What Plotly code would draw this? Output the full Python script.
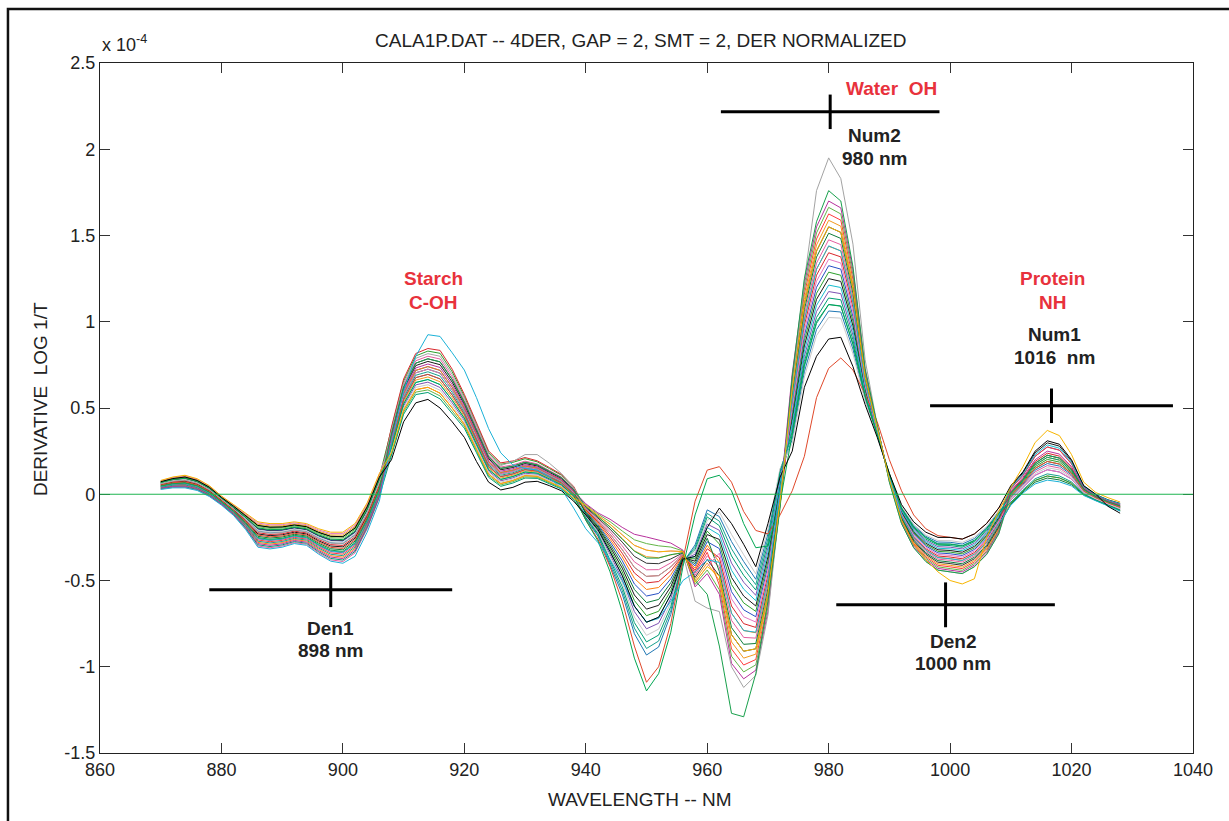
import plotly.graph_objects as go

# ---------------- data ----------------
wavelengths = list(range(870, 1030, 2))  # 870 ... 1028 nm

spec_blue = [.065,.082,.089,.07,.032,-.025,-.078,-.137,-.202,-.212,-.209,-.196,-.206,-.242,-.268,-.271,-.221,-.095,.078,
             .32,.584,.718,.74,.718,.62,.498,.346,.188,.126,.14,.164,.152,.116,.08,.014,
             -.10,-.175,-.275,-.385,-.52,-.59,-.575,-.49,-.36,-.415,-.275,
             -.315,-.565,-.67,-.71,-.415,.03,
             .475,.92,1.20,1.325,1.305,1.03,.62,.365,.10,-.11,-.23,-.30,-.34,-.345,-.355,-.32,-.255,-.15,
             .032,.11,.22,.274,.256,.176,.041,-.006,-.036,-.058]
spec_pink = [.03,.04,.04,.025,-.01,-.06,-.12,-.20,-.30,-.31,-.30,-.28,-.29,-.34,-.38,-.39,-.34,-.20,-.02,
             .36,.632,.774,.80,.784,.68,.544,.388,.224,.158,.17,.192,.176,.138,.10,.032,
             -.08,-.145,-.217,-.299,-.392,-.438,-.437,-.398,-.344,-.469,-.357,
             -.421,-.731,-.83,-.834,-.521,.0,
             .565,1.04,1.34,1.475,1.447,1.138,.66,.379,.092,-.13,-.258,-.332,-.376,-.383,-.393,-.356,-.289,-.178,
             -.022,.052,.13,.166,.152,.104,.014,-.024,-.054,-.08]
spec_black1 = [.055,.07,.075,.058,.02,-.035,-.09,-.155,-.23,-.24,-.235,-.22,-.23,-.27,-.30,-.305,-.255,-.125,.05,
               .34,.608,.746,.77,.751,.65,.521,.367,.206,.142,.155,.178,.164,.127,.09,.023,
               -.11,-.19,-.304,-.428,-.584,-.666,-.644,-.536,-.368,-.388,-.234,
               -.262,-.482,-.59,-.648,-.362,.06,
               .43,.86,1.13,1.25,1.234,.976,.60,.358,.104,-.10,-.216,-.284,-.322,-.326,-.336,-.302,-.238,-.136,
               .044,.124,.24,.298,.279,.192,.047,-.002,-.032,-.053]
spec_orange = [.075,.094,.103,.084,.044,-.015,-.066,-.119,-.174,-.184,-.183,-.172,-.182,-.214,-.236,-.237,-.187,-.065,.106,
               .28,.536,.662,.68,.652,.56,.452,.304,.152,.094,.11,.136,.128,.094,.06,-.004,
               -.07,-.13,-.188,-.256,-.328,-.362,-.368,-.352,-.336,-.496,-.398,
               -.50,-.856,-.95,-.927,-.60,-.03,
               .633,1.13,1.445,1.588,1.554,1.219,.69,.39,.086,-.145,-.279,-.356,-.403,-.412,-.422,-.383,-.315,-.199,
               .002,.078,.17,.214,.198,.136,.026,-.016,-.046,-.07]
spec_purple = [.045,.058,.061,.045,.008,-.045,-.102,-.173,-.258,-.268,-.261,-.244,-.254,-.298,-.332,-.339,-.289,-.155,.022,
               .26,.512,.634,.65,.619,.53,.429,.283,.134,.078,.095,.122,.116,.083,.05,-.013,
               -.125,-.213,-.348,-.493,-.68,-.78,-.748,-.605,-.38,-.348,-.173,
               -.209,-.399,-.51,-.586,-.309,.09,
               .385,.80,1.06,1.175,1.163,.922,.58,.351,.108,-.09,-.202,-.268,-.304,-.307,-.317,-.284,-.221,-.122,
               -.034,.039,.11,.142,.129,.088,.008,-.028,-.058,-.085]
spec_red = [.058,.073,.079,.061,.023,-.033,-.087,-.151,-.223,-.233,-.229,-.214,-.224,-.263,-.292,-.297,-.247,-.118,.057,
            .39,.668,.816,.845,.834,.725,.579,.42,.251,.182,.193,.213,.194,.155,.115,.046,
            -.09,-.16,-.246,-.342,-.456,-.514,-.506,-.444,-.352,-.442,-.316,
            -.368,-.648,-.75,-.772,-.468,-.06,
            .52,.98,1.27,1.40,1.376,1.084,.64,.372,.096,-.12,-.244,-.316,-.358,-.364,-.374,-.338,-.272,-.164,
            .014,.091,.19,.238,.221,.152,.032,-.012,-.042,-.065]
spec_teal = [.04,.052,.054,.038,.002,-.05,-.108,-.182,-.272,-.282,-.274,-.256,-.266,-.312,-.348,-.356,-.306,-.17,.008,
             .30,.56,.69,.71,.685,.59,.475,.325,.17,.11,.125,.15,.14,.105,.07,.005,
             -.14,-.235,-.391,-.557,-.776,-.894,-.851,-.674,-.392,-.307,-.111,
             -.156,-.316,-.43,-.524,-.256,.14,
             .34,.74,.99,1.10,1.092,.868,.56,.344,.112,-.08,-.188,-.252,-.286,-.288,-.298,-.266,-.204,-.108,
             -.046,.026,.09,.118,.106,.072,.002,-.032,-.062,-.09]
spec_lightgreen = [.07,.088,.096,.077,.038,-.02,-.072,-.128,-.188,-.198,-.196,-.184,-.194,-.228,-.252,-.254,-.204,-.08,.092,
                   .23,.476,.592,.605,.57,.485,.395,.252,.107,.054,.073,.101,.098,.067,.035,-.027,
                   -.06,-.115,-.159,-.213,-.264,-.286,-.299,-.306,-.328,-.523,-.439,
                   -.554,-.939,-1.03,-.989,-.654,-.05,
                   .678,1.19,1.515,1.663,1.625,1.273,.71,.397,.082,-.155,-.293,-.372,-.421,-.431,-.441,-.401,-.332,-.213,
                   -.01,.065,.15,.19,.175,.12,.02,-.02,-.05,-.075]
spec_darkgreen = [.05,.064,.068,.051,.014,-.04,-.096,-.164,-.244,-.254,-.248,-.232,-.242,-.284,-.316,-.322,-.272,-.14,.036,
                  .31,.572,.704,.725,.702,.605,.487,.336,.179,.118,.133,.157,.146,.111,.075,.01,
                  -.105,-.183,-.29,-.407,-.552,-.628,-.61,-.513,-.364,-.402,-.255,
                  -.448,-.773,-.87,-.865,-.548,.02,
                  .588,1.07,1.375,1.513,1.483,1.165,.67,.383,.09,-.135,-.265,-.34,-.385,-.393,-.403,-.365,-.298,-.185,
                  -.058,.013,.07,.094,.083,.056,-.004,-.036,-.066,-.095]
spec_lightgrey = [.063,.079,.086,.067,.029,-.028,-.081,-.142,-.209,-.219,-.216,-.202,-.212,-.249,-.276,-.28,-.23,-.103,.071,
                  .25,.50,.62,.635,.603,.515,.418,.273,.125,.07,.088,.115,.11,.078,.045,-.018,
                  -.13,-.22,-.362,-.514,-.712,-.818,-.782,-.628,-.384,-.334,-.152,
                  -.103,-.233,-.35,-.462,-.203,.15,
                  .295,.68,.92,1.025,1.021,.814,.54,.337,.116,-.07,-.174,-.236,-.268,-.269,-.279,-.248,-.187,-.094,
                  -.028,.046,.12,.154,.141,.096,.011,-.026,-.056,-.083]
spec_magenta = [.035,.046,.047,.032,-.004,-.055,-.114,-.191,-.286,-.296,-.287,-.268,-.278,-.326,-.364,-.373,-.323,-.185,-.006,
                .33,.596,.732,.755,.735,.635,.51,.357,.197,.134,.148,.171,.158,.122,.085,.019,
                -.055,-.108,-.145,-.192,-.232,-.248,-.265,-.283,-.324,-.537,-.46,
                -.58,-.98,-1.07,-1.02,-.68,-.02,
                .70,1.22,1.55,1.70,1.66,1.30,.72,.40,.08,-.16,-.30,-.38,-.43,-.44,-.45,-.41,-.34,-.22,
                .02,.098,.20,.25,.233,.16,.035,-.01,-.04,-.063]
spec_green3 = [.0725,.091,.0995,.080,.041,-.0175,-.069,-.1235,-.181,-.191,-.1895,-.178,-.188,-.221,-.244,-.2455,-.1955,-.0725,.099,
               .38,.656,.802,.83,.817,.71,.567,.409,.242,.174,.185,.206,.188,.149,.11,.041,
               -.115,-.1975,-.3185,-.4495,-.616,-.704,-.6785,-.559,-.372,-.3745,-.2135,
               -.2885,-.5235,-.63,-.679,-.3885,.05,
               .4525,.89,1.165,1.2875,1.2695,1.003,.61,.3615,.102,-.105,-.223,-.292,-.331,-.3355,-.3455,-.311,-.2465,-.143,
               -.004,.0715,.16,.202,.1865,.128,.023,-.018,-.048,-.0725]
spec_red2 = [.0425,.055,.0575,.0413,.005,-.0475,-.105,-.1775,-.265,-.275,-.2675,-.25,-.26,-.305,-.34,-.3475,-.2975,-.1625,.015,
             .24,.488,.606,.62,.586,.50,.406,.262,.116,.062,.08,.108,.104,.072,.04,-.022,
             -.085,-.1525,-.2315,-.3205,-.424,-.476,-.4715,-.421,-.348,-.4555,-.3365,
             -.527,-.897,-.99,-.958,-.627,-.06,
             .655,1.16,1.48,1.625,1.589,1.246,.70,.393,.084,-.15,-.286,-.364,-.412,-.421,-.431,-.392,-.323,-.206,
             .032,.1105,.22,.274,.2555,.176,.041,-.006,-.036,-.0575]
spec_blue2 = [.061,.0772,.0834,.0653,.0272,-.029,-.0828,-.1442,-.2132,-.2232,-.2194,-.2056,-.2156,-.2532,-.2808,-.2846,-.2346,-.107,.0668,
              .29,.548,.676,.695,.6685,.575,.4635,.3145,.161,.102,.1175,.143,.134,.0995,.065,.0005,
              -.145,-.2425,-.4055,-.5785,-.808,-.932,-.8855,-.697,-.396,-.2935,-.0905,
              -.1295,-.2745,-.39,-.493,-.2295,.12,
              .3175,.71,.955,1.0625,1.0565,.841,.55,.3405,.114,-.075,-.181,-.244,-.277,-.2785,-.2885,-.257,-.1955,-.101,
              -.016,.0585,.14,.178,.1635,.112,.017,-.022,-.052,-.0775]
spec_orange2 = [.0375,.049,.0505,.0348,-.001,-.0525,-.111,-.1865,-.279,-.289,-.2805,-.262,-.272,-.319,-.356,-.3645,-.3145,-.1775,.001,
                .32,.584,.718,.74,.718,.62,.498,.346,.188,.126,.14,.164,.152,.116,.08,.014,
                -.095,-.1675,-.2605,-.3635,-.488,-.552,-.5405,-.467,-.356,-.4285,-.2955,
                -.3945,-.6895,-.79,-.803,-.4945,-.01,
                .5425,1.01,1.305,1.4375,1.4115,1.111,.65,.3755,.094,-.125,-.251,-.324,-.367,-.3735,-.3835,-.347,-.2805,-.171,
                -.052,.0195,.08,.106,.0945,.064,-.001,-.034,-.064,-.0925]
spec_black3 = [.066,.0832,.0904,.0718,.0332,-.024,-.0768,-.1352,-.1992,-.2092,-.2064,-.1936,-.2036,-.2392,-.2648,-.2676,-.2176,-.092,.0808,
               .35,.62,.76,.785,.7675,.665,.5325,.3775,.215,.15,.1625,.185,.17,.1325,.095,.0275,
               -.075,-.1375,-.2025,-.2775,-.36,-.40,-.4025,-.375,-.34,-.4825,-.3775,
               -.474,-.814,-.91,-.896,-.574,-.04,
               .61,1.10,1.41,1.55,1.518,1.192,.68,.386,.088,-.14,-.272,-.348,-.394,-.402,-.412,-.374,-.306,-.192,
               .008,.0845,.18,.226,.2095,.144,.029,-.014,-.044,-.0675]
spec_cyan2 = [.046,.0592,.0624,.0458,.0092,-.044,-.1008,-.1712,-.2552,-.2652,-.2584,-.2416,-.2516,-.2952,-.3288,-.3356,-.2856,-.152,.0248,
              .27,.524,.648,.665,.6355,.545,.4405,.2935,.143,.086,.1025,.129,.122,.0885,.055,-.0085,
              -.12,-.205,-.333,-.471,-.648,-.742,-.713,-.582,-.376,-.361,-.193,
              -.2355,-.4405,-.55,-.617,-.3355,.07,
              .4075,.83,1.095,1.2125,1.1985,.949,.59,.3545,.106,-.095,-.209,-.276,-.313,-.3165,-.3265,-.293,-.2295,-.129,
              .038,.117,.23,.286,.267,.184,.044,-.004,-.034,-.055]
spec_pink2 = [.0775,.097,.1065,.0868,.047,-.0125,-.063,-.1145,-.167,-.177,-.1765,-.166,-.176,-.207,-.228,-.2285,-.1785,-.0575,.113,
              .31,.572,.704,.725,.7015,.605,.4865,.3355,.179,.118,.1325,.157,.146,.1105,.075,.0095,
              -.065,-.1225,-.1735,-.2345,-.296,-.324,-.3335,-.329,-.332,-.5095,-.4185,
              -.3415,-.6065,-.71,-.741,-.4415,.0,
              .4975,.95,1.235,1.3625,1.3405,1.057,.63,.3685,.098,-.115,-.237,-.308,-.349,-.3545,-.3645,-.329,-.2635,-.157,
              -.034,.039,.11,.142,.129,.088,.008,-.028,-.058,-.085]
spec_green4 = [.0325,.043,.0435,.0283,-.007,-.0575,-.117,-.1955,-.293,-.303,-.2935,-.274,-.284,-.333,-.372,-.3815,-.3315,-.1925,-.013,
               .22,.464,.578,.59,.553,.47,.383,.241,.098,.046,.065,.094,.092,.061,.03,-.031,
               -.135,-.2275,-.3765,-.5355,-.744,-.856,-.8165,-.651,-.388,-.3205,-.1315,
               -.1825,-.3575,-.47,-.555,-.2825,.13,
               .3625,.77,1.025,1.1375,1.1275,.895,.57,.3475,.11,-.085,-.195,-.26,-.295,-.2975,-.3075,-.275,-.2125,-.115,
               .002,.078,.17,.214,.198,.136,.026,-.016,-.046,-.07]
spec_grey = [.06,.076,.082,.064,.026,-.03,-.084,-.146,-.216,-.226,-.222,-.208,-.218,-.256,-.284,-.288,-.238,-.11,.064,
             .37,.644,.788,.815,.80,.695,.556,.40,.233,.166,.19,.23,.23,.18,.12,.04,
             -.085,-.153,-.232,-.321,-.424,-.476,-.472,-.421,-.348,-.62,-.66,
             -.68,-1.0,-1.12,-1.05,-.70,-.05,
             .62,1.24,1.76,1.95,1.83,1.45,.78,.40,.07,-.17,-.31,-.39,-.44,-.45,-.46,-.42,-.35,-.23,
             -.01,.065,.15,.19,.175,.12,.02,-.02,-.05,-.075]
spec_vermilion = [.053,.067,.072,.054,.017,-.038,-.093,-.16,-.237,-.247,-.242,-.226,-.236,-.277,-.308,-.314,-.264,-.133,.043,
                  .29,.548,.676,.695,.669,.575,.464,.315,.161,.102,.118,.143,.134,.10,.065,.0,
                  -.15,-.26,-.42,-.62,-.88,-1.09,-1.0,-.75,-.38,-.04,.14,
                  .16,.07,-.10,-.21,-.23,-.12,
                  .02,.22,.56,.73,.79,.72,.58,.42,.20,.02,-.12,-.20,-.24,-.25,-.26,-.23,-.17,-.08,
                  -.01,.065,.15,.19,.175,.12,.02,-.02,-.05,-.075]
spec_green1 = [.068,.085,.093,.074,.035,-.023,-.075,-.133,-.195,-.205,-.203,-.19,-.20,-.235,-.26,-.263,-.213,-.088,.085,
               .27,.524,.648,.665,.636,.545,.441,.294,.143,.086,.103,.129,.122,.089,.055,-.009,
               -.15,-.27,-.45,-.68,-.95,-1.14,-1.04,-.80,-.42,-.12,.09,
               .11,.02,-.17,-.31,-.30,-.05,
               .35,.75,1.00,1.10,1.09,.87,.57,.35,.12,-.08,-.19,-.25,-.29,-.29,-.30,-.27,-.20,-.11,
               -.05,.02,.08,.106,.095,.064,-.001,-.034,-.064,-.093]
spec_green2 = [.048,.061,.065,.048,.011,-.043,-.099,-.169,-.251,-.261,-.255,-.238,-.248,-.291,-.324,-.331,-.281,-.148,.029,
               .35,.62,.76,.785,.768,.665,.533,.378,.215,.15,.163,.185,.17,.133,.095,.028,
               -.07,-.13,-.19,-.26,-.33,-.37,-.37,-.35,-.34,-.50,-.58,
               -.88,-1.27,-1.29,-1.04,-.62,-.08,
               .68,1.25,1.58,1.76,1.70,1.32,.73,.40,.07,-.17,-.31,-.39,-.44,-.45,-.46,-.42,-.35,-.23,
               .008,.085,.18,.226,.21,.144,.029,-.014,-.044,-.068]
spec_cyan = [.028,.037,.037,.022,-.013,-.063,-.123,-.205,-.307,-.317,-.307,-.286,-.296,-.347,-.388,-.40,-.36,-.22,-.04,
             .30,.60,.80,.925,.915,.82,.72,.56,.38,.24,.17,.15,.14,.10,.03,-.08,
             -.20,-.28,-.38,-.50,-.65,-.74,-.72,-.62,-.50,-.45,-.38,
             -.395,-.69,-.79,-.80,-.495,.02,
             .54,1.01,1.305,1.44,1.41,1.11,.65,.375,.094,-.125,-.25,-.324,-.367,-.374,-.384,-.347,-.28,-.171,
             -.064,.007,.06,.082,.072,.048,-.007,-.038,-.068,-.098]
spec_black2 = [.073,.091,.10,.08,.041,-.018,-.069,-.124,-.181,-.191,-.19,-.178,-.188,-.221,-.244,-.246,-.196,-.073,.099,
               .20,.42,.53,.55,.50,.42,.33,.19,.07,.025,.04,.07,.075,.05,.02,-.04,
               -.12,-.205,-.333,-.471,-.648,-.742,-.713,-.582,-.376,-.361,-.193,
               -.08,-.17,-.29,-.42,-.17,.10,
               .25,.62,.80,.90,.91,.74,.52,.33,.12,-.06,-.16,-.22,-.25,-.25,-.26,-.23,-.17,-.08,
               .05,.13,.25,.31,.29,.20,.05,.0,-.07,-.11]
spec_yellow = [.08,.10,.11,.09,.05,-.01,-.06,-.11,-.16,-.17,-.17,-.16,-.17,-.20,-.22,-.22,-.17,-.05,.12,
               .24,.488,.606,.62,.586,.50,.406,.262,.116,.062,.08,.108,.104,.072,.04,-.022,
               -.065,-.123,-.174,-.235,-.296,-.324,-.334,-.329,-.332,-.51,-.419,
               -.474,-.814,-.91,-.896,-.574,-.04,
               .61,1.10,1.41,1.55,1.518,1.192,.68,.386,.088,-.15,-.29,-.38,-.45,-.50,-.52,-.49,-.25,-.10,
               .04,.16,.30,.37,.34,.23,.07,.01,-.02,-.045]

series_names = ["blue", "green3", "pink", "red2", "black1", "orange", "blue2", "purple", "red", "orange2",
                "teal", "black3", "lightgreen", "cyan2", "darkgreen", "pink2", "lightgrey", "green4", "magenta",
                "grey", "vermilion", "green1", "green2", "cyan", "black2", "yellow"]
series_values = [spec_blue, spec_green3, spec_pink, spec_red2, spec_black1, spec_orange, spec_blue2, spec_purple,
                 spec_red, spec_orange2, spec_teal, spec_black3, spec_lightgreen, spec_cyan2, spec_darkgreen,
                 spec_pink2, spec_lightgrey, spec_green4, spec_magenta, spec_grey, spec_vermilion, spec_green1,
                 spec_green2, spec_cyan, spec_black2, spec_yellow]
series_colors = ["#2750c4", "#2ca02c", "#e35d9f", "#ff3b3b", "#1a1a1a", "#f39a1e", "#1f77b4", "#7e52b3",
                 "#d9262c", "#ff7f0e", "#17a08f", "#333333", "#64b548", "#17becf", "#0e7d3b", "#e377c2",
                 "#c9c9c9", "#009e73", "#b8329d", "#a3a3a3", "#e0482a", "#00a651", "#18a04c", "#1bb2d8",
                 "#000000", "#f7b500"]

x_ticks = [860, 880, 900, 920, 940, 960, 980, 1000, 1020, 1040]
y_ticks = [-1.5, -1, -0.5, 0, 0.5, 1, 1.5, 2, 2.5]
y_tick_text = ["-1.5", "-1", "-0.5", "0", "0.5", "1", "1.5", "2", "2.5"]

# band markers: (label, centre wavelength, level, half width nm, half height)
markers = [("Den1", 898, -0.554, 20, 0.10),
           ("Num2", 980.25, 2.217, 18, 0.10),
           ("Num1", 1016.7, 0.513, 20, 0.10),
           ("Den2", 999.25, -0.641, 18, 0.13)]

RED = "#e8323c"
DARK = "#222222"
labels = [("Starch", 914.85, 1.251, RED), ("C-OH", 914.85, 1.114, RED),
          ("Water  OH", 990.3, 2.352, RED),
          ("Num2", 987.6, 2.080, DARK), ("980 nm", 987.6, 1.946, DARK),
          ("Protein", 1016.8, 1.251, RED), ("NH", 1016.8, 1.114, RED),
          ("Num1", 1017.2, 0.924, DARK), ("1016  nm", 1017.2, 0.790, DARK),
          ("Den1", 897.9, -0.778, DARK), ("898 nm", 897.9, -0.904, DARK),
          ("Den2", 1000.4, -0.855, DARK), ("1000 nm", 1000.4, -0.983, DARK)]

for n, v in zip(series_names, series_values):
    if len(v) != len(wavelengths):
        raise ValueError(f"{n}: {len(v)} values")

FONT = "Liberation Sans, Arial, Helvetica, sans-serif"

fig = go.Figure()
for name, color, vals in zip(series_names, series_colors, series_values):
    fig.add_trace(go.Scatter(x=wavelengths, y=vals, mode="lines", name=name,
                             line=dict(color=color, width=1), hoverinfo="skip"))

shapes = []
# zero reference line (green)
shapes.append(dict(type="line", xref="x", yref="y", x0=x_ticks[0], x1=x_ticks[-1], y0=0, y1=0,
                   line=dict(color="#1fb451", width=1.2), layer="above"))
for lab, cx, lvl, hw, hh in markers:
    shapes.append(dict(type="line", xref="x", yref="y", x0=cx - hw, x1=cx + hw, y0=lvl, y1=lvl,
                       line=dict(color="black", width=3), layer="above"))
    shapes.append(dict(type="line", xref="x", yref="y", x0=cx, x1=cx, y0=lvl - hh, y1=lvl + hh,
                       line=dict(color="black", width=3), layer="above"))
# outer frame
shapes.append(dict(type="rect", xref="paper", yref="paper", x0=-0.0842, x1=1.0393, y0=-0.1116, y1=1.0783,
                   line=dict(color="#111111", width=2.5), fillcolor="rgba(0,0,0,0)", layer="above"))

annotations = []
for txt, x, y, col in labels:
    annotations.append(dict(text=f"<b>{txt}</b>", x=x, y=y, xref="x", yref="y", showarrow=False,
                            xanchor="center", yanchor="middle", font=dict(size=19, color=col, family=FONT)))
annotations += [
    dict(text="CALA1P.DAT -- 4DER, GAP = 2, SMT = 2, DER NORMALIZED", x=0.4945, y=1.0319,
         xref="paper", yref="paper", showarrow=False, xanchor="center", yanchor="middle",
         font=dict(size=19, color=DARK, family=FONT)),
    dict(text="x 10<sup>-4</sup>", x=0.0, y=1.009, xref="paper", yref="paper", showarrow=False,
         xanchor="left", yanchor="bottom", font=dict(size=18, color=DARK, family=FONT)),
    dict(text="DERIVATIVE  LOG 1/T", x=-0.0549, y=0.513, xref="paper", yref="paper", showarrow=False,
         textangle=-90, xanchor="center", yanchor="middle", font=dict(size=19, color=DARK, family=FONT)),
    dict(text="WAVELENGTH -- NM", x=0.4945, y=-0.0681, xref="paper", yref="paper", showarrow=False,
         xanchor="center", yanchor="middle", font=dict(size=19, color=DARK, family=FONT)),
]

fig.update_layout(
    width=1229, height=821,
    margin=dict(l=100, r=36, t=63, b=68),
    paper_bgcolor="white", plot_bgcolor="white",
    showlegend=False, hovermode=False,
    font=dict(family=FONT, size=18, color=DARK),
    shapes=shapes, annotations=annotations,
    xaxis=dict(range=[860, 1040], tickvals=x_ticks, ticktext=[str(t) for t in x_ticks],
               ticks="inside", ticklen=10, tickwidth=1, tickcolor="#333333",
               showline=True, linecolor="#222222", linewidth=1.3, mirror="ticks",
               showgrid=False, zeroline=False, tickfont=dict(size=18, color=DARK, family=FONT)),
    yaxis=dict(range=[-1.5, 2.5], tickvals=y_ticks, ticktext=y_tick_text,
               ticks="inside", ticklen=10, tickwidth=1, tickcolor="#333333",
               showline=True, linecolor="#222222", linewidth=1.3, mirror="ticks",
               showgrid=False, zeroline=False, tickfont=dict(size=18, color=DARK, family=FONT)),
)

fig.write_html("out.html")
